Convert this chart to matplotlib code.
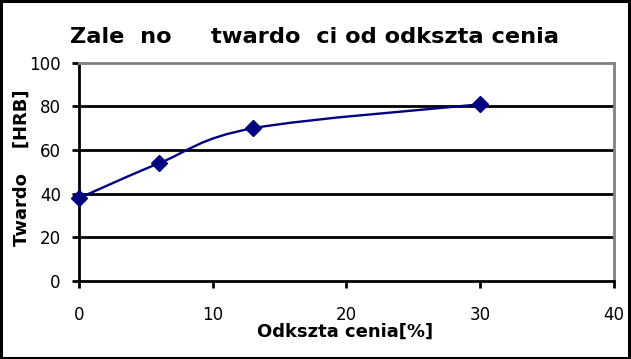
import numpy as np
import matplotlib.pyplot as plt
from matplotlib.path import Path
from matplotlib.patches import PathPatch, Rectangle

plt.rcParams['font.family'] = ['DejaVu Sans']

# data
strain = [0, 6, 13, 30]          # Odkształcenie [%]
hardness = [38, 54, 70, 81]      # Twardość [HRB]
x_ticks = [0, 10, 20, 30, 40]
y_ticks = [0, 20, 40, 60, 80, 100]

title_txt = 'Zale  no     twardo  ci od odkszta cenia'
xlabel_txt = 'Odkszta cenia[%]'
ylabel_txt = 'Twardo    [HRB]'

navy = '#000080'

fig = plt.figure(figsize=(6.31, 3.59), dpi=100)
fig.patch.set_facecolor('white')
fig.patches.append(Rectangle((0.002, 0.003), 0.995, 0.994, transform=fig.transFigure,
                             fill=False, edgecolor='black', linewidth=2.2))

ax = fig.add_axes([0.125, 0.217, 0.848, 0.608])
ax.set_xlim(0, 40)
ax.set_ylim(0, 100)
ax.set_xticks(x_ticks)
ax.set_yticks(y_ticks)

for y in y_ticks[1:-1]:
    ax.axhline(y, color='black', linewidth=2, zorder=1)

for side in ['top', 'right']:
    ax.spines[side].set_color('#808080')
    ax.spines[side].set_linewidth(2)
for side in ['left', 'bottom']:
    ax.spines[side].set_color('black')
    ax.spines[side].set_linewidth(2)

ax.tick_params(direction='out', length=5, width=2, color='black', labelsize=12)
ax.tick_params(axis='x', pad=13)
ax.tick_params(axis='y', pad=8)

# smoothed line (Excel "smoothed line" style bezier)
pts = np.column_stack([strain, hardness]).astype(float)
verts = [pts[0]]
codes = [Path.MOVETO]
n = len(pts)
for i in range(n - 1):
    p0 = pts[i - 1] if i > 0 else pts[i]
    p1 = pts[i]
    p2 = pts[i + 1]
    p3 = pts[i + 2] if i + 2 < n else pts[i + 1]
    c1 = p1 + (p2 - p0) / 6.0
    c2 = p2 - (p3 - p1) / 6.0
    verts += [c1, c2, p2]
    codes += [Path.CURVE4] * 3
ax.add_patch(PathPatch(Path(verts, codes), facecolor='none', edgecolor=navy,
                       linewidth=1.7, zorder=3, clip_on=False))

ax.plot(strain, hardness, linestyle='none', marker='D', markersize=8,
        color=navy, zorder=4, clip_on=False)

fig.text(0.498, 0.879, title_txt, ha='center', va='baseline',
         fontsize=16.2, fontweight='bold')

ax.set_xlabel(xlabel_txt, fontsize=13, fontweight='bold', va='baseline')
ax.xaxis.set_label_coords(0.497, -0.257)
ax.set_ylabel(ylabel_txt, fontsize=13, fontweight='bold', va='baseline')
ax.yaxis.set_label_coords(-0.097, 0.52)

fig.savefig('out.png', dpi=100)
